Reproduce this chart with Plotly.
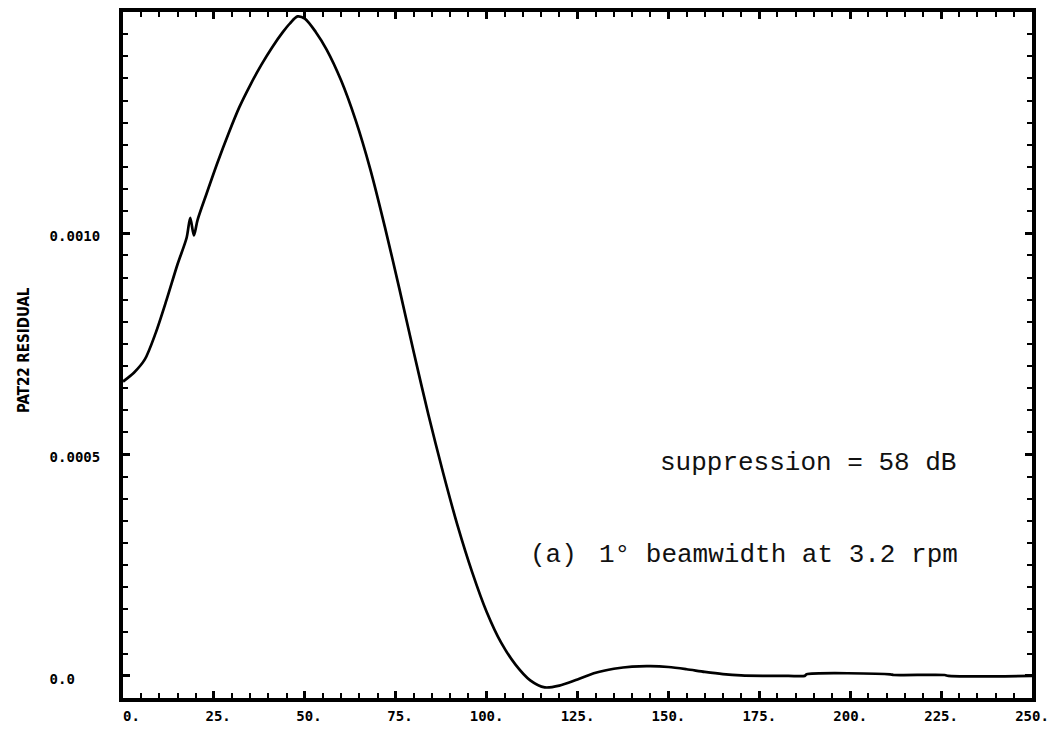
import plotly.graph_objects as go

# Residual pattern (PAT22) versus azimuth sample
azimuth = [0, 3, 6, 9, 12, 15, 17.5, 18.5, 19.5, 20.5, 23, 26, 29, 32, 35, 38, 41, 44, 46,
           48, 50, 53, 56, 60, 64, 68, 72, 76, 80, 84, 88, 92, 96, 100, 104, 108, 112, 116,
           120, 125, 130, 135, 140, 145, 150, 155, 160, 165, 170, 176, 183, 187.5, 188, 211,
           212, 226, 227, 250]
residual = [0.000665, 0.000685, 0.000715, 0.000775, 0.000850, 0.000930, 0.000990, 0.001035,
            0.000995, 0.001030, 0.001090, 0.001160, 0.001225, 0.001285, 0.001335, 0.001380,
            0.001420, 0.001455, 0.001475, 0.001490, 0.001485, 0.001455, 0.001415, 0.001345,
            0.001255, 0.001145, 0.001015, 0.000875, 0.000730, 0.000590, 0.000460, 0.000340,
            0.000235, 0.000145, 0.000075, 0.000025, -0.000010, -0.000026, -0.000022,
            -0.000008, 0.000007, 0.000016, 0.000021, 0.000022, 0.000020, 0.000015, 0.000009,
            0.000004, 0.000001, 0.000000, 0.000000, 0.000000, 0.0000035, 0.0000035,
            0.000002, 0.000002, 0.000000, 0.000000]

x_tick_values = [0, 25, 50, 75, 100, 125, 150, 175, 200, 225, 250]
x_tick_labels = ["0.", "25.", "50.", "75.", "100.", "125.", "150.", "175.", "200.", "225.", "250."]
y_tick_values = [0.0, 0.0005, 0.0010]
y_tick_labels = ["0.0", "0.0005", "0.0010"]

NBSP = "\u00a0"
# fixed-width fields: x labels right-justified in 4 columns, y labels left-justified in 6
x_text = [s.rjust(4, NBSP) for s in x_tick_labels]
y_text = [s.ljust(6, NBSP) for s in y_tick_labels]

tick_font = dict(family="DejaVu Sans Mono", size=14, color="black", weight="bold")
type_font = dict(family="Liberation Mono", size=26, color="#111111")

fig = go.Figure()
fig.add_trace(go.Scatter(
    x=azimuth, y=residual, mode="lines",
    line=dict(color="black", width=2.7, shape="spline", smoothing=0.8),
    hoverinfo="skip", showlegend=False,
))

axis_common = dict(
    showline=True, linecolor="black", linewidth=4, mirror="allticks",
    ticks="inside", tickcolor="black", ticklen=7, tickwidth=3,
    showgrid=False, zeroline=False, tickfont=tick_font,
)

fig.update_xaxes(
    range=[0, 250], tickmode="array", tickvals=x_tick_values, ticktext=x_text,
    minor=dict(dtick=5, tick0=0, ticks="inside", ticklen=5, tickwidth=2,
               tickcolor="black", showgrid=False),
    ticklabelstandoff=2,
    **axis_common,
)
fig.update_yaxes(
    range=[-0.00005, 0.0015], tickmode="array", tickvals=y_tick_values, ticktext=y_text,
    minor=dict(dtick=0.00005, tick0=0, ticks="inside", ticklen=5, tickwidth=2,
               tickcolor="black", showgrid=False),
    ticklabelstandoff=16, ticklabelshift=3,
    **axis_common,
)

fig.add_annotation(
    text="PAT22 RESIDUAL", textangle=-90, showarrow=False,
    xref="paper", yref="paper", x=-0.109, y=0.507, xanchor="center", yanchor="middle",
    font=dict(family="DejaVu Sans Condensed, Liberation Sans Narrow, DejaVu Sans",
              size=15, color="black", weight="bold"),
)
fig.add_annotation(
    text="suppression = 58 dB", showarrow=False,
    xref="paper", yref="paper", x=0.9186, y=0.3426, xanchor="right", yanchor="middle",
    font=type_font,
)
fig.add_annotation(
    text="(a)", showarrow=False,
    xref="paper", yref="paper", x=0.4455, y=0.2085, xanchor="left", yanchor="middle",
    font=type_font,
)
fig.add_annotation(
    text="1° beamwidth at 3.2 rpm", showarrow=False,
    xref="paper", yref="paper", x=0.9208, y=0.2085, xanchor="right", yanchor="middle",
    font=type_font,
)

fig.update_layout(
    width=1062, height=730,
    margin=dict(l=123, r=30, t=12, b=32, autoexpand=False),
    paper_bgcolor="white", plot_bgcolor="white",
)

fig.write_html("out.html")
